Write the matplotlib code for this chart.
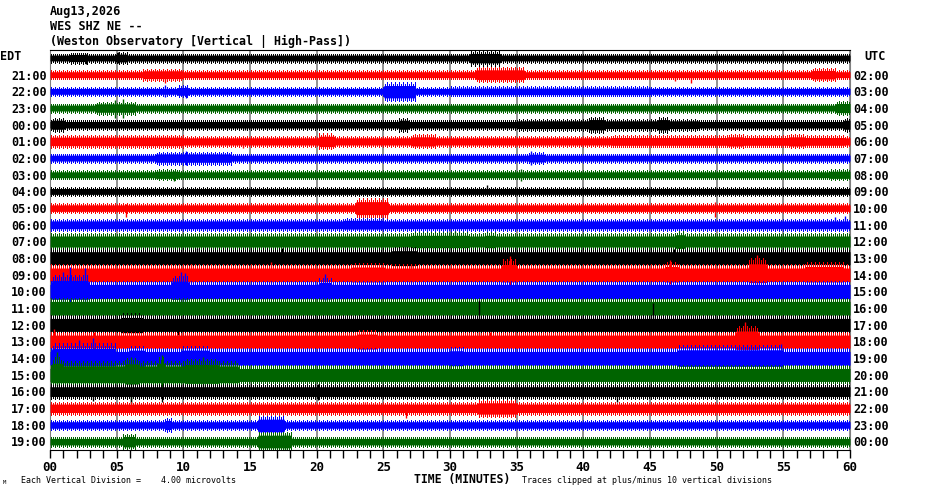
import numpy as np
from matplotlib import pyplot as plt
from matplotlib import transforms

edt_labels = ["EDT", "21:00", "22:00", "23:00", "00:00", "01:00", "02:00", "03:00",
              "04:00", "05:00", "06:00", "07:00", "08:00", "09:00", "10:00", "11:00",
              "12:00", "13:00", "14:00", "15:00", "16:00", "17:00", "18:00", "19:00"]
utc_labels = ["UTC", "02:00", "03:00", "04:00", "05:00", "06:00", "07:00", "08:00",
              "09:00", "10:00", "11:00", "12:00", "13:00", "14:00", "15:00", "16:00",
              "17:00", "18:00", "19:00", "20:00", "21:00", "22:00", "23:00", "00:00"]
trace_colors = ["black", "red", "blue", "#006400"]

# outer reach of the background noise of each trace (1 row = 16.7 units)
base_amp = [4.5, 4.5, 4.5, 4.5, 5, 5.5, 4.5, 4.5, 4.5, 5, 6, 8.5,
            10, 10.5, 11, 10.5, 10, 10, 10.5, 10, 7.5, 6.5, 5, 5]

# louder stretches: (row, start min, end min, up, down)
bursts = [
    (0, 1.5, 2.8, 5.5, 5.5), (0, 4.9, 5.8, 6, 6), (0, 31.5, 33.8, 7, 7.5),
    (1, 6.9, 9.9, 6, 6), (1, 31.9, 35.6, 7.5, 7.5), (1, 57.1, 58.9, 6.5, 6.5),
    (2, 9.6, 10.4, 6, 6), (2, 25.0, 27.4, 9, 10), (2, 30, 45, 5, 5),
    (3, 3.4, 6.4, 6.5, 6.5), (3, 58.9, 60, 7, 7),
    (4, 0.1, 1.1, 7, 7), (4, 26.1, 26.9, 7, 7), (4, 35.1, 48.6, 6, 6),
    (4, 40.4, 41.6, 8, 8), (4, 45.6, 46.4, 8, 8), (4, 59.5, 60, 7, 7),
    (5, 0, 10, 6.5, 6.5), (5, 20.1, 21.3, 8, 8), (5, 27.1, 28.9, 7, 7),
    (5, 42.1, 59.6, 6, 6), (5, 50.8, 52, 7, 7), (5, 55.4, 56.6, 7, 7),
    (6, 7.9, 13.6, 6.5, 6.5), (6, 35.9, 37.1, 6, 6),
    (7, 7.9, 9.6, 5.5, 5.5), (7, 58.5, 60, 5.5, 5.5),
    (9, 22.9, 25.4, 10, 10),
    (10, 22, 25, 7, 6.5),
    (11, 27.1, 31.4, 9.5, 9.5), (11, 32.6, 33.4, 9.5, 9.5), (11, 46.9, 47.6, 10.5, 10.5),
    (12, 25.6, 27.5, 11.5, 11.5),
    (13, 22.6, 25.1, 12, 11), (13, 33.9, 35.0, 16, 11), (13, 46.1, 47.1, 13, 11),
    (13, 52.4, 53.7, 17, 12), (13, 56.6, 59.5, 13, 11),
    (14, 0.1, 2.9, 17, 12), (14, 9.1, 10.4, 16, 12), (14, 20.1, 21.1, 14, 11.5),
    (16, 5.3, 6.9, 11.5, 12),
    (17, 23, 24.5, 11.5, 11.5), (17, 51.4, 53.1, 16, 12),
    (18, 0.1, 4.9, 15, 12), (18, 5.9, 7.1, 12.5, 12.5), (18, 9.9, 11.9, 12.5, 12.5),
    (18, 30, 31, 11.5, 11.5), (18, 47.1, 54.9, 13, 12.5),
    (19, 0.1, 14.1, 14, 12), (19, 0.1, 0.9, 18, 12), (19, 5.6, 6.6, 17, 14),
    (19, 8.1, 8.6, 18, 12), (19, 10.1, 12.6, 16, 13),
    (21, 32.1, 35, 8.5, 9),
    (22, 8.6, 9.1, 7, 7), (22, 15.6, 17.6, 9, 10.5),
    (23, 5.4, 6.4, 8, 8), (23, 15.6, 18.1, 10, 9.5),
]

# single spikes: (row, minute, up, down)
spikes = [
    (0, 2.7, 4, 6), (0, 5.1, 6, 5),
    (1, 8.6, 4, 8), (1, 46.9, 5, 6), (1, 48.1, 3, 8),
    (2, 8.6, 6, 6), (2, 10.2, 4, 7),
    (3, 4.9, 8, 10), (3, 5.5, 9, 10),
    (4, 14.6, 5, 5), (5, 14.5, 3, 7),
    (6, 10.2, 7, 7), (6, 36.1, 7, 7),
    (7, 9.3, 4, 6), (7, 35.3, 6, 6),
    (8, 32.8, 6, 3),
    (9, 5.7, 4, 9), (9, 49.9, 6, 9),
    (10, 58.9, 8, 4), (10, 59.6, 9, 4),
    (11, 30.4, 10, 6),
    (12, 11, 10, 6), (12, 17.4, 10, 6), (12, 26.6, 11, 7), (12, 27.1, 6, 10), (12, 46.8, 9, 6),
    (13, 10.6, 11, 8), (13, 16.6, 13, 8), (13, 27.1, 10, 8), (13, 34.5, 19, 10),
    (13, 46.5, 15, 9), (13, 53.0, 20, 12),
    (14, 1.0, 20, 10), (14, 1.5, 25, 12), (14, 2.6, 24, 11), (14, 9.8, 20, 12),
    (14, 10.1, 19, 11), (14, 20.6, 18, 9),
    (16, 9.6, 6, 10), (16, 32.2, 25, 13), (16, 45.2, 22, 5),
    (17, 0.3, 13, 8), (17, 3.3, 10, 7), (17, 23.5, 12, 8), (17, 33, 10, 6), (17, 52.1, 20, 12),
    (18, 2.2, 18, 11), (18, 3.2, 20, 12), (18, 54.8, 14, 10), (18, 58.6, 10, 8),
    (19, 0.5, 23, 11), (19, 6.1, 18, 28), (19, 8.4, 20, 12), (19, 11.5, 18, 13),
    (20, 3.2, 5, 9), (20, 6.1, 5, 12), (20, 8.4, 5, 10), (20, 20.1, 8, 8), (20, 42.5, 5, 10),
    (21, 23.6, 6, 6), (21, 26.7, 4, 10),
    (23, 17.6, 8, 10),
]

ROW = 16.68        # amplitude units per row spacing
CORE = 0.65        # solid part of the envelope
MID = 0.85         # dense strokes up to here, sparse strokes to the full envelope

plt.rcParams['font.family'] = 'DejaVu Sans Mono'

fig = plt.figure(figsize=(9.3, 4.94), dpi=100)
ax = fig.add_axes([50/930, 44/494, 800/930, 400/494])

t = np.linspace(0, 60, 801)   # one sample per screen column
nrows = len(base_amp)
for i in range(nrows):
    col = trace_colors[i % 4]
    up = np.full(t.shape, float(base_amp[i]))
    dn = up.copy()
    for r, t0, t1, a_up, a_dn in bursts:
        if r != i:
            continue
        m = (t >= t0) & (t <= t1)
        up[m] = np.maximum(up[m], a_up)
        dn[m] = np.maximum(dn[m], a_dn)
    up, dn = up/ROW, dn/ROW
    ax.fill_between(t, -i - CORE*dn, -i + CORE*up, color=col, linewidth=0, zorder=3)
    # ragged noise edge drawn as vertical strokes
    ax.vlines(t[1::2], -i - MID*dn[1::2], -i + MID*up[1::2], color=col, lw=0.72,
              antialiased=False, zorder=3)
    ax.vlines(t[1::4], -i - dn[1::4], -i + up[1::4], color=col, lw=0.72,
              antialiased=False, zorder=3)
    for r, ts, s_up, s_dn in spikes:
        if r == i:
            ax.vlines(ts, -i - s_dn/ROW, -i + s_up/ROW, color=col, lw=1.0, zorder=3)

ax.set_xlim(0, 60)
ax.set_ylim(-23.5, 0.48)
ax.set_xticks(np.arange(0, 61, 5))
ax.set_xticklabels(["%02d" % v for v in range(0, 61, 5)], fontsize=9, fontweight='bold')
ax.set_xticks(np.arange(0, 61, 1), minor=True)
ax.tick_params(axis='x', which='both', direction='out', length=6, width=1, pad=2)
ax.set_yticks([])
for x in range(0, 61, 5):
    ax.axvline(x, color='#808080', lw=1.2, zorder=1)
ax.spines['left'].set_color('#808080')
ax.spines['right'].set_color('#808080')

tr_l = transforms.blended_transform_factory(ax.transAxes, ax.transData)
for i in range(1, nrows):
    ax.text(-0.004, -i - 0.08, edt_labels[i], transform=tr_l, ha='right', va='center',
            fontsize=8.5, fontweight='bold')
    ax.text(1.004, -i - 0.08, utc_labels[i], transform=tr_l, ha='left', va='center',
            fontsize=8.5, fontweight='bold')
fig.text(0/930, 1 - 56/494, edt_labels[0], ha='left', va='center', fontsize=8.5, fontweight='bold')
fig.text(864/930, 1 - 56/494, utc_labels[0], ha='left', va='center', fontsize=8.5, fontweight='bold')

fig.text(50/930, 1 - 12/494, "Aug13,2026", ha='left', va='center', fontsize=8.5, fontweight='bold')
fig.text(50/930, 1 - 26/494, "WES SHZ NE --", ha='left', va='center', fontsize=8.5, fontweight='bold')
fig.text(50/930, 1 - 41/494, "(Weston Observatory [Vertical | High-Pass])", ha='left', va='center',
         fontsize=8.4, fontweight='bold')

fig.text(414/930, 1 - 479/494, "TIME (MINUTES)", ha='left', va='center', fontsize=8.3, fontweight='bold')
fig.text(21/930, 1 - 480/494, "Each Vertical Division =", ha='left', va='center', fontsize=6)
fig.text(161/930, 1 - 480/494, "4.00 microvolts", ha='left', va='center', fontsize=6)
fig.text(522/930, 1 - 480/494, "Traces clipped at plus/minus 10 vertical divisions", ha='left',
         va='center', fontsize=6)
fig.text(3/930, 1 - 482/494, "M", ha='left', va='center', fontsize=4)

fig.savefig("out.png", dpi=100)
